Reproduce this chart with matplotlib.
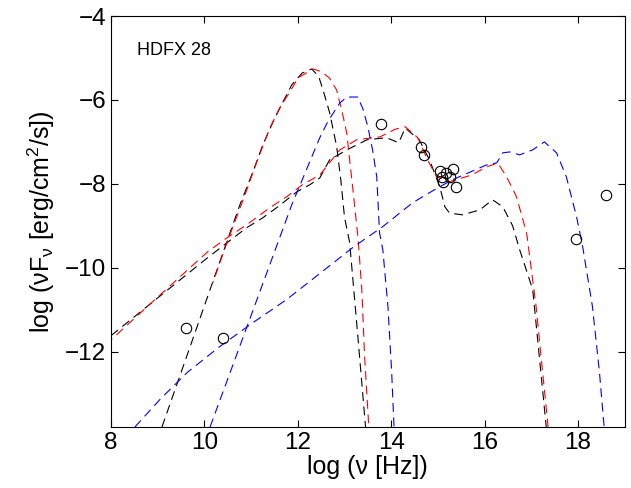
"""SED of HDFX 28 with model components."""

import matplotlib

matplotlib.use("Agg")
from matplotlib import pyplot as plt

import numpy as np

plt.rcParams["font.family"] = ["Liberation Sans", "DejaVu Sans"]
plt.rcParams["mathtext.fontset"] = "custom"
plt.rcParams["mathtext.rm"] = "Liberation Sans"
plt.rcParams["mathtext.it"] = "Liberation Sans:italic"

# observed photometry (log nu, log nuFnu)
obs_x = [9.6, 10.4, 13.78, 14.63, 14.7, 15.04, 15.08, 15.1, 15.18, 15.25, 15.32, 15.38, 17.95, 18.6]
obs_y = [-11.43, -11.67, -6.57, -7.12, -7.31, -7.69, -7.83, -7.95, -7.74, -7.83, -7.64, -8.07, -9.31, -8.26]

# black model: low-frequency bump and broad component
k_bump_x = [9.09, 9.6, 10.2, 10.48, 10.76, 11.04, 11.25, 11.47, 11.68, 11.87, 12.09, 12.3, 12.45, 12.55, 12.68,
            12.83, 12.92, 13.0, 13.11, 13.29, 13.45]
k_bump_y = [-13.8, -12.18, -10.27, -9.38, -8.5, -7.71, -7.07, -6.52, -6.05, -5.64, -5.36, -5.26, -5.45, -5.8, -6.3,
            -7.1, -7.9, -8.8, -9.4, -11.7, -13.8]
k_broad_x = [8.0, 9.0, 10.07, 10.9, 11.25, 11.57, 11.98, 12.26, 12.47, 12.68, 13.05, 13.48, 13.9, 14.16, 14.3, 14.6,
             14.82, 15.04, 15.15, 15.25, 15.53, 15.9, 16.17, 16.39, 16.6, 16.75, 17.03, 17.32]
k_broad_y = [-11.62, -10.72, -9.76, -9.05, -8.81, -8.55, -8.19, -8.02, -7.86, -7.43, -7.19, -6.95, -6.9, -7.02, -6.67,
             -6.95, -7.43, -8.07, -8.55, -8.7, -8.74, -8.62, -8.38, -8.55, -9.0, -9.57, -10.52, -13.8]

# red model
r_bump_x = [10.18, 10.5, 10.87, 11.12, 11.4, 11.61, 11.83, 12.0, 12.32, 12.5, 12.68, 12.83, 12.94, 13.05, 13.11,
            13.18, 13.29, 13.37, 13.43, 13.52]
r_bump_y = [-10.36, -9.35, -8.26, -7.48, -6.67, -6.19, -5.81, -5.48, -5.26, -5.32, -5.48, -5.76, -6.24, -6.8, -7.43,
            -8.14, -9.3, -10.52, -12.12, -13.8]
r_broad_x = [8.0, 9.0, 10.07, 10.48, 10.9, 11.4, 11.76, 12.1, 12.47, 12.9, 13.26, 13.76, 14.08, 14.3, 14.57,
             14.78, 14.97, 15.25, 15.72, 16.04, 16.28, 16.47, 16.68, 16.9, 17.1, 17.36]
r_broad_y = [-11.72, -10.7, -9.62, -9.29, -8.98, -8.57, -8.31, -8.02, -7.79, -7.19, -6.95, -6.88, -6.7, -6.64, -6.9,
             -7.43, -7.83, -7.95, -7.79, -7.6, -7.5, -7.83, -8.3, -9.17, -10.9, -13.8]

# blue model
b_bump_x = [10.12, 10.55, 10.91, 11.25, 11.57, 11.87, 12.04, 12.26, 12.47, 12.64, 12.9, 13.05, 13.28, 13.39, 13.5,
            13.6, 13.69, 13.75, 13.82, 13.93, 14.01, 14.06]
b_bump_y = [-13.8, -12.5, -11.41, -10.38, -9.41, -8.5, -8.05, -7.46, -6.9, -6.52, -6.07, -5.93, -5.93, -6.2, -6.64,
            -7.19, -7.83, -9.17, -9.57, -10.93, -12.5, -13.8]
b_broad_x = [8.51, 9.05, 9.63, 10.33, 11.04, 11.76, 12.4, 13.2, 13.82, 14.46, 14.99, 15.32, 16.04, 16.26, 16.39,
             16.54, 16.75, 17.03, 17.28, 17.54, 17.75, 17.97, 18.1, 18.31, 18.46, 18.56]
b_broad_y = [-13.8, -13.14, -12.5, -11.88, -11.31, -10.76, -10.2, -9.5, -9.02, -8.45, -8.1, -7.9, -7.55, -7.5, -7.26,
             -7.24, -7.31, -7.19, -7.0, -7.26, -7.83, -8.79, -9.5, -10.93, -12.5, -13.8]

fig = plt.figure(figsize=(6.31, 4.88), dpi=100)
ax = fig.add_axes([0.176, 0.125, 0.814, 0.842])

dash = (8, 5)
for xs, ys, c, off in [
    (k_bump_x, k_bump_y, "k", 0),
    (k_broad_x, k_broad_y, "k", 0),
    (r_bump_x, r_bump_y, "r", 6.5),
    (r_broad_x, r_broad_y, "r", 6.5),
    (b_bump_x, b_bump_y, "b", 0),
    (b_broad_x, b_broad_y, "b", 0),
]:
    ax.plot(xs, ys, color=c, linewidth=0.8, linestyle=(off, dash))

ax.plot(obs_x, obs_y, "o", markersize=7.5, markerfacecolor="none",
        markeredgecolor="k", markeredgewidth=0.8)

ax.text(8.56, -4.81, "HDFX 28", fontsize=13, va="center", ha="left")

ax.set_xlim(8, 19)
ax.set_ylim(-13.8, -4)
ax.set_xticks(np.arange(8, 19, 2))
ax.set_yticks([-12, -10, -8, -6, -4])
ax.set_yticklabels(["\u221212", "\u221210", "\u22128", "\u22126", "\u22124"])
ax.tick_params(direction="in", top=True, right=True, length=5, width=0.8, labelsize=17.5)
for s in ax.spines.values():
    s.set_linewidth(0.8)

ax.set_xlabel("log (\u03bd [Hz])", fontsize=18, labelpad=1)
ax.set_ylabel("log (\u03bdF$_{\\mathrm{\u03bd}}$ [erg/cm$^2$/s])", fontsize=18, labelpad=6)

fig.savefig("out.png", dpi=100)
